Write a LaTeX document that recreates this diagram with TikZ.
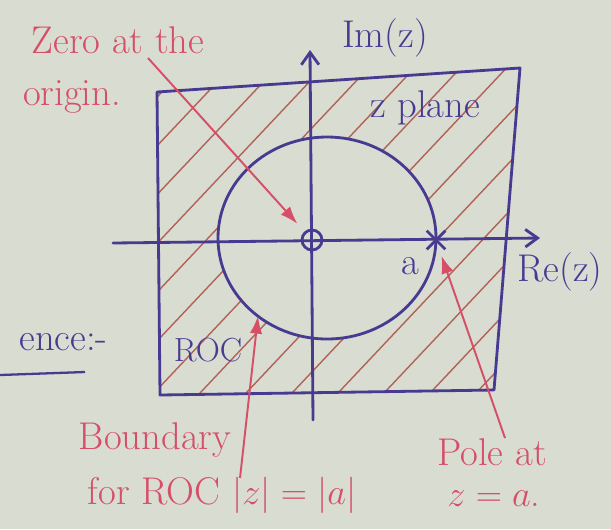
\documentclass[tikz,border=0pt]{standalone}
\usepackage{amsmath}
\usetikzlibrary{arrows.meta,shapes.misc}
\definecolor{penblue}{RGB}{72,58,145}
\definecolor{penred}{RGB}{214,78,104}
\definecolor{hatchred}{RGB}{178,98,88}
\definecolor{paper}{RGB}{216,220,209}

\begin{document}
\begin{tikzpicture}[x=0.02cm,y=-0.02cm]
	\tikzset{blueline/.style={penblue,line width=1.6pt,line cap=round,line join=round},
		axisarrow/.style={blueline,-{Straight Barb[length=7pt,width=10pt]}},
		redarrow/.style={penred,line width=1.1pt,-{Latex[length=10pt,width=7pt]}},
		redtext/.style={penred,font=\fontsize{22}{26}\selectfont,inner sep=0pt},
		bluetext/.style={penblue,font=\fontsize{22}{26}\selectfont,inner sep=0pt}};
	\useasboundingbox (0,0) rectangle (611,529);
	\fill[paper] (0,0) rectangle (611,529);
	% corners of the z plane box
	\coordinate (tl) at (157,92); \coordinate (tr) at (520,68);
	\coordinate (br) at (494,390); \coordinate (bl) at (160,395);
	\coordinate (c) at (327,238);
	% hatched ROC, outside the circle
	\begin{scope}[even odd rule]
		\clip (tl)--(tr)--(br)--(bl)--cycle (c) ellipse (109 and 101);
		\foreach \s in {-230,-184,...,520}
			\draw[hatchred,line width=0.8pt] (\s,410) -- ++(330,-350);
	\end{scope}
	\draw[blueline] (tl)--(tr)--(br)--(bl)--cycle;
	% axes
	\coordinate (ybot) at (313,420); \coordinate (ytop) at (310,50);
	\coordinate (xleft) at (113,243); \coordinate (xright) at (540,238);
	\draw[axisarrow] (ybot) -- (ytop);
	\draw[axisarrow] (xleft) -- (xright);
	\draw[blueline] (c) ellipse (109 and 101);
	\node[draw=penblue,line width=1.6pt,circle,minimum size=0.4cm,inner sep=0pt] (orig) at (312,240) {};
	\node[cross out,draw=penblue,line width=1.6pt,minimum size=9pt,inner sep=0pt] (pole) at (436,240) {};
	\coordinate (bnd) at (258,316);
	% labels
	\node[bluetext] (imlab) at (385,38) {Im(z)};
	\node[bluetext] (zplane) at (425,108) {z plane};
	\node[bluetext] (alab) at (410,266) {a};
	\node[bluetext] (relab) at (560,272) {Re(z)};
	\node[bluetext,font=\fontsize{19}{22}\selectfont] (roc) at (208,350) {ROC};
	\node[bluetext,anchor=east] (exist) at (108,342) {ence:-};
	\draw[penblue,line width=1.3pt] (0,375) -- (85,372);
	\node[redtext] (zero1) at (118,40) {Zero at the};
	\node[redtext] (zero2) at (72,97) {origin.};
	\node[redtext] (bnd1) at (155,440) {Boundary};
	\node[redtext] (bnd2) at (222,495) {for ROC $|z|=|a|$};
	\node[redtext] (pole1) at (492,452) {Pole at};
	\node[redtext] (pole2) at (494,499) {$z=a$.};
	% pointers
	\coordinate (zs) at (148,58);
	\coordinate (bs) at (240,478);
	\coordinate (ps) at (505,438);
	\draw[redarrow,shorten >=6pt] (zs) -- (orig);
	\draw[redarrow] (bs) -- (bnd);
	\draw[redarrow,shorten >=4pt] (ps) -- (pole);
\end{tikzpicture}
\end{document}
